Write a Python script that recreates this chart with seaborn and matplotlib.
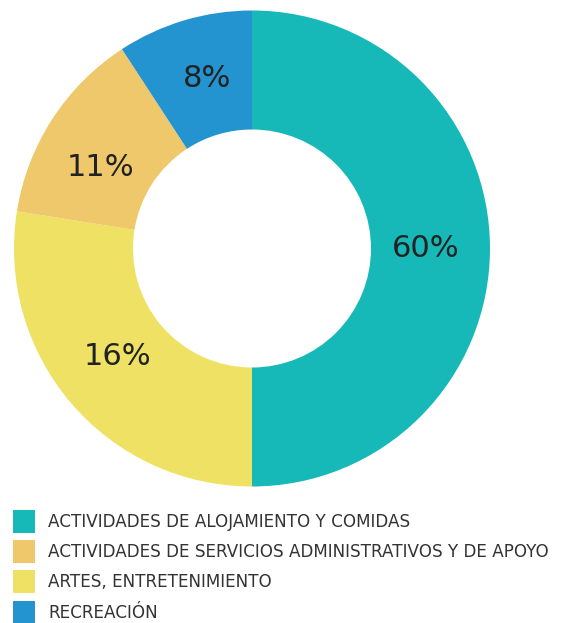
import matplotlib
matplotlib.use("Agg")
import matplotlib.pyplot as plt
import seaborn as sns
from matplotlib.patches import Patch

# Slice sizes as drawn in the picture (degrees of the ring turned into shares)
categories = [
    "ACTIVIDADES DE ALOJAMIENTO Y COMIDAS",
    "ARTES, ENTRETENIMIENTO",
    "ACTIVIDADES DE SERVICIOS ADMINISTRATIVOS Y DE APOYO",
    "RECREACIÓN",
]
slice_shares = [50.0, 27.5, 13.3, 9.2]
pct_labels = ["60%", "16%", "11%", "8%"]
colors = ["#17B9B8", "#EEE164", "#EEC86A", "#2394CF"]

# legend order as in the reference
legend_order = [0, 2, 1, 3]

sns.set_theme(style="white")
plt.rcParams["font.family"] = ["DejaVu Sans"]

fig = plt.figure(figsize=(5.76, 6.23), dpi=100)
W, H = 576, 623
cx, cy, r = 252, 248.5, 238
ax = fig.add_axes([(cx - r) / W, 1 - (cy + r) / H, 2 * r / W, 2 * r / H])

wedges, texts = ax.pie(
    slice_shares,
    colors=colors,
    labels=pct_labels,
    labeldistance=0.73,
    startangle=90,
    counterclock=False,
    wedgeprops=dict(width=0.5, linewidth=0),
    textprops=dict(fontsize=22, color="#222222"),
)
# small hand nudges so the labels sit where the reference puts them
nudges = [(0.0, 0.0), (-0.01, 0.022), (-0.026, -0.055), (0.019, 0.016)]
for t, (dx, dy) in zip(texts, nudges):
    x, y = t.get_position()
    t.set_position((x + dx, y + dy))
    t.set_ha("center")
    t.set_va("center")
ax.set_xlim(-1, 1)
ax.set_ylim(-1, 1)
ax.set_aspect("equal")
ax.axis("off")

handles = [Patch(facecolor=colors[i], edgecolor="none") for i in legend_order]
labels = [categories[i] for i in legend_order]
fig.legend(
    handles,
    labels,
    loc="upper left",
    bbox_to_anchor=(13 / W, 1 - 510 / H),
    frameon=False,
    fontsize=12.1,
    labelcolor="#333333",
    handlelength=1.32,
    handleheight=1.74,
    handletextpad=0.78,
    labelspacing=0.42,
    borderpad=0,
    borderaxespad=0,
)

fig.savefig("out.png", dpi=100, facecolor="white")
